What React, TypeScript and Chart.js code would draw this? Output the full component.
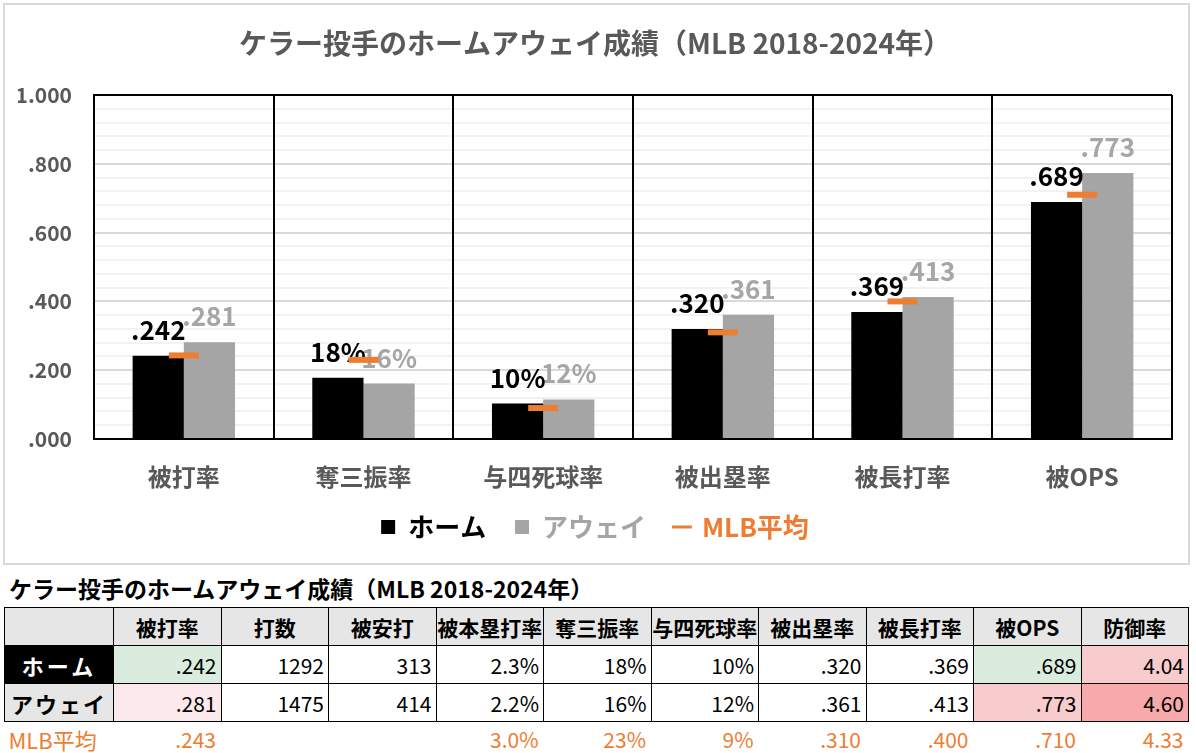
import React, { useEffect, useRef } from 'react';
import { Chart, registerables } from 'chart.js';

Chart.register(...registerables);

const FONT = '"Noto Sans CJK JP", "Noto Sans", sans-serif';

// ---- chart data ----
const chartTitle = 'ケラー投手のホームアウェイ成績（MLB 2018-2024年）';
const categories = ['被打率', '奪三振率', '与四死球率', '被出塁率', '被長打率', '被OPS'];
const labelFormats = ['rate', 'pct', 'pct', 'rate', 'rate', 'rate'];
const homeValues = [0.242, 0.178, 0.103, 0.32, 0.369, 0.689];
const awayValues = [0.281, 0.161, 0.115, 0.361, 0.413, 0.773];
const mlbValues = [0.243, 0.23, 0.09, 0.31, 0.4, 0.71];
const seriesNames = ['ホーム', 'アウェイ', 'MLB平均'];

// ---- table data ----
const tableTitle = 'ケラー投手のホームアウェイ成績（MLB 2018-2024年）';
const tableHeaders = ['被打率', '打数', '被安打', '被本塁打率', '奪三振率', '与四死球率', '被出塁率', '被長打率', '被OPS', '防御率'];
const homeRow = ['.242', '1292', '313', '2.3%', '18%', '10%', '.320', '.369', '.689', '4.04'];
const awayRow = ['.281', '1475', '414', '2.2%', '16%', '12%', '.361', '.413', '.773', '4.60'];
const mlbRow = ['.243', '', '', '3.0%', '23%', '9%', '.310', '.400', '.710', '4.33'];
const homeCellColors = ['#d9ecdd', '', '', '', '', '', '', '', '#d9ecdd', '#f8cbcd'];
const awayCellColors = ['#fce9ec', '', '', '', '', '', '', '', '#f8cbcd', '#f7a9ab'];

const HOME_COLOR = '#000000';
const AWAY_COLOR = '#a5a5a5';
const MLB_COLOR = '#ed7d31';
const AXIS_TEXT = '#595959';

function formatValue(v: number, fmt: string): string {
  if (fmt === 'pct') return Math.round(v * 100) + '%';
  const s = v.toFixed(3);
  return s.startsWith('0') ? s.slice(1) : s;
}

const valueLabelPlugin = {
  id: 'valueLabels',
  afterDatasetDraw(chart: any, args: any) {
    const i = args.index;
    if (i > 1) return;
    const ctx = chart.ctx;
    ctx.save();
    ctx.font = `bold 26px ${FONT}`;
    ctx.fillStyle = i === 0 ? '#000000' : '#a6a6a6';
    ctx.textAlign = 'center';
    ctx.textBaseline = 'alphabetic';
    args.meta.data.forEach((el: any, j: number) => {
      const v = chart.data.datasets[i].data[j];
      ctx.fillText(formatValue(v, labelFormats[j]), el.x, el.y - 16);
    });
    ctx.restore();
  },
};

function ChartBox() {
  const ref = useRef<HTMLCanvasElement | null>(null);
  useEffect(() => {
    if (!ref.current) return;
    Chart.defaults.font.family = FONT;
    const chart = new Chart(ref.current, {
      type: 'bar',
      data: {
        labels: categories,
        datasets: [
          {
            type: 'bar',
            label: seriesNames[0],
            data: homeValues,
            backgroundColor: HOME_COLOR,
            barPercentage: 1,
            categoryPercentage: 0.57,
            order: 1,
          },
          {
            type: 'bar',
            label: seriesNames[1],
            data: awayValues,
            backgroundColor: AWAY_COLOR,
            barPercentage: 1,
            categoryPercentage: 0.57,
            order: 1,
          },
          {
            type: 'line',
            label: seriesNames[2],
            data: mlbValues,
            showLine: false,
            pointStyle: 'line',
            pointRadius: 15,
            pointHoverRadius: 15,
            pointBorderWidth: 6,
            pointBorderColor: MLB_COLOR,
            borderColor: MLB_COLOR,
            backgroundColor: MLB_COLOR,
            order: 0,
          } as any,
        ],
      },
      options: {
        responsive: false,
        maintainAspectRatio: false,
        animation: false,
        events: [],
        layout: { padding: { left: 18, right: 24, top: 0, bottom: 18 } },
        plugins: {
          tooltip: { enabled: false },
          title: {
            display: true,
            text: chartTitle,
            color: AXIS_TEXT,
            font: { size: 28, weight: 'bold', family: FONT },
            padding: { top: 27, bottom: 34.4 },
          },
          legend: {
            display: true,
            position: 'bottom',
            labels: {
              usePointStyle: true,
              boxWidth: 14,
              boxHeight: 14,
              padding: 23,
              font: { size: 26, weight: 'bold', family: FONT },
              generateLabels: () => [
                { text: seriesNames[0] + ' ', fillStyle: HOME_COLOR, strokeStyle: HOME_COLOR, lineWidth: 0, pointStyle: 'rect', fontColor: HOME_COLOR, datasetIndex: 0, hidden: false },
                { text: seriesNames[1] + ' ', fillStyle: AWAY_COLOR, strokeStyle: AWAY_COLOR, lineWidth: 0, pointStyle: 'rect', fontColor: AWAY_COLOR, datasetIndex: 1, hidden: false },
                { text: seriesNames[2], fillStyle: MLB_COLOR, strokeStyle: MLB_COLOR, lineWidth: 3, pointStyle: 'line', fontColor: MLB_COLOR, datasetIndex: 2, hidden: false },
              ] as any,
            },
          },
        },
        scales: {
          x: {
            offset: true,
            grid: { display: true, offset: true, color: '#000000', lineWidth: 2, drawTicks: false, z: 0 },
            border: { display: true, color: '#000000', width: 2 },
            ticks: { color: AXIS_TEXT, font: { size: 24, weight: 'bold', family: FONT }, padding: 23 },
            afterFit: (scale: any) => {
              scale.height = 52;
            },
          },
          y: {
            min: 0,
            max: 1,
            grid: {
              drawTicks: false,
              color: (c: any) => {
                const v = Math.round(c.tick.value * 100);
                if (v === 100) return '#000000';
                if (v % 20 === 0) return '#d9d9d9';
                return '#f2f2f2';
              },
              lineWidth: 2,
              z: -1,
            },
            border: { display: true, color: '#000000', width: 2 },
            ticks: {
              stepSize: 0.04,
              autoSkip: false,
              color: AXIS_TEXT,
              font: { size: 21, weight: 'bold', family: FONT },
              padding: 22,
              callback: (value: any) => {
                const v = Math.round(Number(value) * 100);
                if (v % 20 !== 0) return '';
                return formatValue(v / 100, 'rate');
              },
            },
            afterFit: (scale: any) => {
              scale.width = 76;
            },
          },
        },
      },
      plugins: [valueLabelPlugin],
    } as any);
    return () => chart.destroy();
  }, []);
  return <canvas ref={ref} width={1196} height={568} style={{ position: 'absolute', left: 0, top: 0, width: 1196, height: 568 }} />;
}

function Table() {
  const cell: React.CSSProperties = {
    border: '1px solid #000',
    padding: '0 4px',
    height: 38,
    boxSizing: 'border-box',
    whiteSpace: 'nowrap',
    overflow: 'hidden',
  };
  const dataCell: React.CSSProperties = {
    ...cell,
    textAlign: 'right',
    fontSize: 21,
    fontWeight: 400,
    color: '#000',
  };
  return (
    <>
      <div
        style={{
          position: 'absolute',
          left: 9,
          top: 574,
          fontFamily: FONT,
          fontWeight: 'bold',
          fontSize: 23,
          lineHeight: '28px',
          color: '#000',
          whiteSpace: 'nowrap',
        }}
      >
        {tableTitle}
      </div>
      <table
        style={{
          position: 'absolute',
          left: 4,
          top: 607,
          width: 1184,
          borderCollapse: 'collapse',
          tableLayout: 'fixed',
          fontFamily: FONT,
        }}
      >
        <colgroup>
          <col style={{ width: 109 }} />
          {tableHeaders.map((h) => (
            <col key={h} style={{ width: 107.5 }} />
          ))}
        </colgroup>
        <tbody>
          <tr style={{ height: 38 }}>
            <td style={{ ...cell, background: '#e7e6e6' }} />
            {tableHeaders.map((h) => (
              <td key={h} style={{ ...cell, background: '#e7e6e6', textAlign: 'center', fontWeight: 'bold', fontSize: 21, padding: 0, overflow: 'visible' }}>
                {h}
              </td>
            ))}
          </tr>
          <tr style={{ height: 38 }}>
            <td style={{ ...cell, background: '#000', color: '#fff', textAlign: 'center', fontWeight: 'bold', fontSize: 22, letterSpacing: 3 }}>
              {seriesNames[0]}
            </td>
            {homeRow.map((v, j) => (
              <td key={j} style={{ ...dataCell, background: homeCellColors[j] || '#fff' }}>
                {v}
              </td>
            ))}
          </tr>
          <tr style={{ height: 38 }}>
            <td style={{ ...cell, background: '#e7e6e6', color: '#000', textAlign: 'center', fontWeight: 'bold', fontSize: 22, letterSpacing: 2 }}>
              {seriesNames[1]}
            </td>
            {awayRow.map((v, j) => (
              <td key={j} style={{ ...dataCell, background: awayCellColors[j] || '#fff' }}>
                {v}
              </td>
            ))}
          </tr>
          <tr style={{ height: 34 }}>
            <td style={{ padding: '0 4px', textAlign: 'left', color: MLB_COLOR, fontSize: 22, whiteSpace: 'nowrap' }}>{seriesNames[2]}</td>
            {mlbRow.map((v, j) => (
              <td key={j} style={{ padding: '0 5px', textAlign: 'right', color: MLB_COLOR, fontSize: 21 }}>
                {v}
              </td>
            ))}
          </tr>
        </tbody>
      </table>
    </>
  );
}

export default function App() {
  return (
    <div style={{ position: 'absolute', left: 0, top: 0, width: 1196, height: 753, background: '#fff', overflow: 'hidden' }}>
      <div
        style={{
          position: 'absolute',
          left: 3,
          top: 3,
          width: 1187,
          height: 562,
          border: '2px solid #d9d9d9',
          boxSizing: 'border-box',
        }}
      />
      <ChartBox />
      <Table />
    </div>
  );
}
